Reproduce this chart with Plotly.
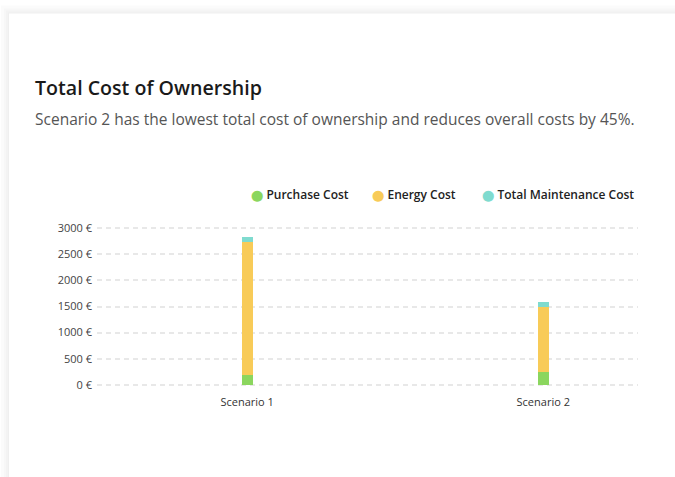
import plotly.graph_objects as go

categories = ["Scenario 1", "Scenario 2"]
purchase_cost = [195, 250]
energy_cost = [2540, 1235]
maintenance_cost = [100, 100]
series_names = ["Purchase Cost", "Energy Cost", "Total Maintenance Cost"]
series_colors = ["#8bd65e", "#f8cb58", "#7fdbcf"]
y_ticks = [0, 500, 1000, 1500, 2000, 2500, 3000]
y_ticktext = [f"{v} €" for v in y_ticks]

W, H = 675, 477
Y_PAD = 60  # value units of padding so edge gridlines are drawn
PX_PER_UNIT = (385 - 228) / 3000
L, R = 97, 638
T = 228 - Y_PAD * PX_PER_UNIT
B = 385 + Y_PAD * PX_PER_UNIT


def px(x):
    return (x - L) / (R - L)


def py(y):
    return (B - y) / (B - T)


fig = go.Figure()
for name, vals, col in zip(series_names, [purchase_cost, energy_cost, maintenance_cost], series_colors):
    fig.add_trace(go.Bar(x=categories, y=vals, name=name, marker_color=col,
                         marker_line_width=0, width=0.037, showlegend=False,
                         hovertemplate="%{x}: %{y} €<extra>" + name + "</extra>"))

legend_ids = ["legend", "legend2", "legend3"]
legend_text_x = [251, 372, 482]  # pixel where the circle glyph starts
for name, col, lid in zip(series_names, series_colors, legend_ids):
    fig.add_trace(go.Scatter(
        x=[None], y=[None], mode="markers", legend=lid,
        name=f"<span style='color:{col};font-family:DejaVu Sans;font-size:11px'>⬤</span> {name}",
        marker=dict(color="rgba(0,0,0,0)", size=1)))

# card with faint shadow
shapes = []
for off, c in [(8, "#fbfbfb"), (5, "#f7f7f7"), (3, "#f3f3f3"), (1, "#efefef")]:
    shapes.append(dict(type="rect", xref="paper", yref="paper", layer="below",
                       x0=px(9 - off), x1=px(W + 20), y0=py(H + 20), y1=py(13 - off),
                       fillcolor=c, line_width=0))
shapes.append(dict(type="rect", xref="paper", yref="paper", layer="below",
                   x0=px(9), x1=px(W + 20), y0=py(H + 20), y1=py(13),
                   fillcolor="white", line_width=0))

annotations = [
    dict(text="Total Cost of Ownership", xref="paper", yref="paper", x=px(33), y=py(87),
         xanchor="left", yanchor="middle", showarrow=False,
         font=dict(family="Open Sans", size=19.6, color="#1a1a1a", weight=600)),
    dict(text="Scenario 2 has the lowest total cost of ownership and reduces overall costs by 45%.",
         xref="paper", yref="paper", x=px(33), y=py(119), xanchor="left", yanchor="middle",
         showarrow=False, font=dict(family="Open Sans", size=15.5, color="#555555")),
]

legend_common = dict(orientation="h", yanchor="middle", y=py(194),
                     font=dict(size=12, color="#222222", weight=600),
                     itemwidth=30, bgcolor="rgba(0,0,0,0)")
legends = {}
for lid, lx in zip(legend_ids, legend_text_x):
    legends[lid] = dict(legend_common, x=px(lx - 40), xanchor="left")

fig.update_layout(
    width=W, height=H,
    margin=dict(l=L, r=W - R, t=T, b=H - B),
    paper_bgcolor="white", plot_bgcolor="white",
    barmode="stack",
    shapes=shapes, annotations=annotations,
    font=dict(family="Open Sans", color="#444444"),
    xaxis=dict(range=[-0.507, 1.32], showgrid=False, zeroline=False, showline=False,
               ticks="", tickfont=dict(size=11, color="#333333"), ticklabelstandoff=6),
    yaxis=dict(range=[-Y_PAD, 3000 + Y_PAD], tickvals=y_ticks, ticktext=y_ticktext,
               showgrid=True, gridcolor="#e8e8e8", gridwidth=2, griddash="5px,4px",
               zeroline=False, showline=False, ticks="",
               tickfont=dict(size=11, color="#444444"), ticklabelstandoff=4),
    **legends,
)

fig.write_html("out.html", config={"displayModeBar": False},
               post_script="document.body.style.margin='0';")
